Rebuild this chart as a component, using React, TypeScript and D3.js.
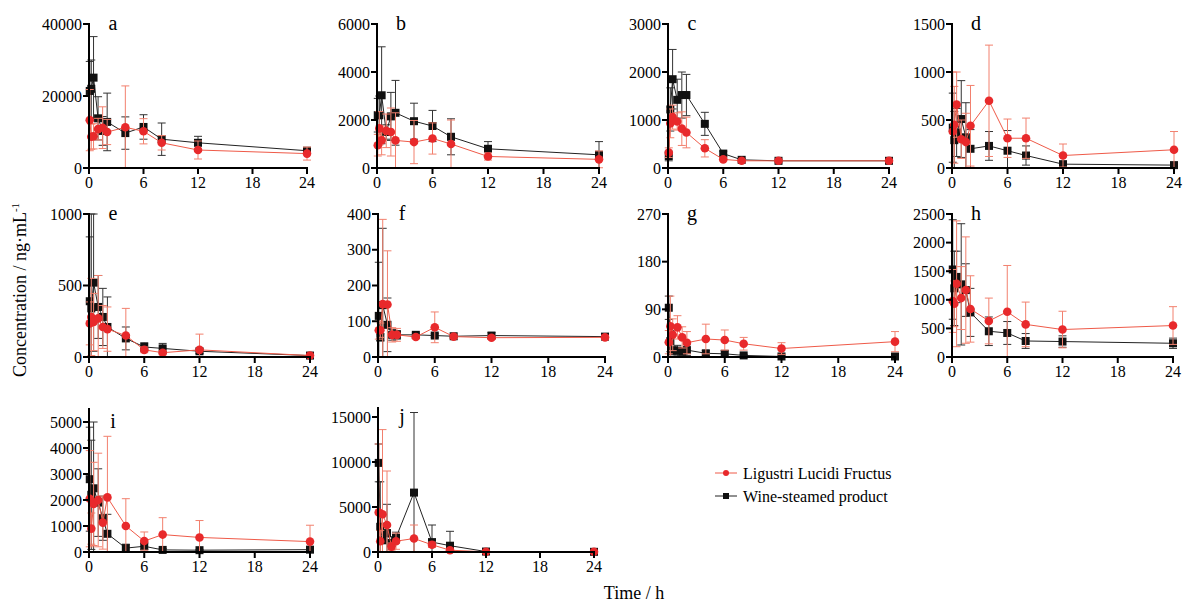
import React from 'react';
import * as d3 from 'd3';

// sampling times (h)
const times = [0.083, 0.25, 0.5, 1, 1.5, 2, 4, 6, 8, 12, 24];
const xTicks = [0, 6, 12, 18, 24];

// a
const aRed = [13300, 8700, 8800, 10800, 11200, 10000, 11300, 10200, 7000, 5000, 4000];
const aRedSd = [8500, 3500, 3500, 3000, 5800, 3500, 11500, 3500, 2000, 2500, 1800];
const aBlack = [21400, 22000, 25100, 13800, 10300, 12800, 9700, 11400, 8000, 7000, 4800];
const aBlackSd = [8200, 8000, 11400, 6000, 4000, 8000, 4500, 3400, 4500, 1800, 500];
// b
const bRed = [950, 1650, 1150, 1550, 1500, 1150, 1080, 1230, 1000, 480, 360];
const bRedSd = [450, 700, 600, 700, 1000, 1150, 900, 650, 1000, 150, 350];
const bBlack = [2200, 2200, 3030, 1500, 2150, 2300, 1950, 1750, 1300, 800, 550];
const bBlackSd = [700, 800, 2020, 300, 1000, 1350, 750, 650, 750, 300, 550];
// c
const cRed = [320, 930, 1060, 970, 820, 740, 410, 180, 150, 150, 150];
const cRedSd = [100, 300, 250, 180, 350, 320, 180, 30, 20, 10, 10];
const cBlack = [250, 1220, 1850, 1420, 1520, 1520, 920, 300, 170, 150, 150];
const cBlackSd = [100, 450, 620, 430, 480, 430, 240, 50, 20, 10, 10];
// d
const dRed = [380, 450, 660, 300, 270, 440, 700, 310, 310, 130, 190];
const dRedSd = [620, 400, 340, 200, 300, 420, 580, 200, 210, 120, 190];
const dBlack = [420, 290, 370, 510, 320, 200, 230, 180, 130, 40, 30];
const dBlackSd = [360, 300, 250, 400, 360, 200, 150, 210, 100, 20, 10];
// e
const eRed = [235, 280, 245, 270, 210, 195, 150, 50, 30, 50, 10];
const eRedSd = [150, 270, 200, 300, 150, 155, 190, 20, 15, 110, 5];
const eBlack = [390, 340, 520, 350, 280, 210, 130, 70, 60, 40, 10];
const eBlackSd = [450, 660, 480, 220, 200, 210, 80, 30, 35, 15, 5];
// f
const fRed = [75, 75, 148, 147, 62, 62, 56, 83, 57, 54, 55];
const fRedSd = [25, 20, 237, 150, 20, 18, 5, 43, 5, 5, 5];
const fBlack = [115, 55, 145, 90, 62, 62, 62, 60, 58, 60, 57];
const fBlackSd = [150, 10, 215, 75, 15, 12, 5, 5, 5, 8, 5];
// g
const gRed = [28, 58, 42, 56, 37, 27, 34, 32, 25, 16, 29];
const gRedSd = [22, 57, 30, 22, 20, 21, 28, 19, 12, 11, 19];
const gBlack = [93, 30, 12, 12, 10, 13, 7, 6, 3, 1, 1];
const gBlackSd = [22, 20, 8, 10, 8, 10, 5, 6, 2, 1, 1];
// h
const hRed = [980, 930, 1280, 1030, 1170, 840, 630, 790, 570, 480, 550];
const hRedSd = [550, 400, 1100, 550, 930, 580, 400, 810, 390, 320, 330];
const hBlack = [1530, 1200, 1400, 1270, 1170, 780, 450, 420, 280, 270, 240];
const hBlackSd = [870, 650, 450, 1060, 460, 420, 250, 200, 130, 100, 90];
// i
const iRed = [2050, 900, 1850, 2000, 1130, 2100, 1000, 420, 670, 560, 400];
const iRedSd = [1850, 600, 1600, 1800, 1020, 2350, 1050, 350, 650, 650, 630];
const iBlack = [2800, 2200, 2450, 1900, 1300, 700, 150, 220, 80, 70, 90];
const iBlackSd = [2000, 2100, 2550, 1300, 850, 750, 150, 120, 50, 30, 30];
// j
const jRed = [4400, 1200, 4200, 3000, 600, 1200, 1500, 800, 200, 20, 20];
const jRedSd = [7600, 1200, 9400, 6000, 400, 900, 1500, 300, 100, 20, 20];
const jBlack = [9900, 2800, 1300, 2100, 1000, 1600, 6600, 1100, 700, 50, 20];
const jBlackSd = [2100, 5000, 1500, 3200, 700, 600, 8900, 1900, 1600, 50, 20];

const seriesNames = ['Ligustri Lucidi Fructus', 'Wine-steamed product'];

const RED = '#e8292b';
const RED_LINE = '#ef5a48';
const RED_ERR = '#f2806e';
const FONT = "'Times New Roman', Tinos, 'Liberation Serif', 'DejaVu Serif', serif";

// panel layout: x0 = pixel of t=0, x1 = pixel of t=24, yb = pixel of 0, yt = pixel of top tick
const panels = [
  { id: 'a', red: aRed, redSd: aRedSd, black: aBlack, blackSd: aBlackSd, ticks: [0, 20000, 40000], max: 40000, top: 40000, x0: 89, x1: 307, yb: 168, yt: 24 },
  { id: 'b', red: bRed, redSd: bRedSd, black: bBlack, blackSd: bBlackSd, ticks: [0, 2000, 4000, 6000], max: 6000, top: 6000, x0: 377, x1: 599, yb: 168, yt: 24 },
  { id: 'c', red: cRed, redSd: cRedSd, black: cBlack, blackSd: cBlackSd, ticks: [0, 1000, 2000, 3000], max: 3000, top: 3000, x0: 668, x1: 889, yb: 168, yt: 24 },
  { id: 'd', red: dRed, redSd: dRedSd, black: dBlack, blackSd: dBlackSd, ticks: [0, 500, 1000, 1500], max: 1500, top: 1500, x0: 952, x1: 1174, yb: 168, yt: 24 },
  { id: 'e', red: eRed, redSd: eRedSd, black: eBlack, blackSd: eBlackSd, ticks: [0, 500, 1000], max: 1000, top: 1000, x0: 89, x1: 310, yb: 357, yt: 214 },
  { id: 'f', red: fRed, redSd: fRedSd, black: fBlack, blackSd: fBlackSd, ticks: [0, 100, 200, 300, 400], max: 400, top: 400, x0: 378, x1: 605, yb: 357, yt: 214 },
  { id: 'g', red: gRed, redSd: gRedSd, black: gBlack, blackSd: gBlackSd, ticks: [0, 90, 180, 270], max: 270, top: 270, x0: 668, x1: 895, yb: 357, yt: 214 },
  { id: 'h', red: hRed, redSd: hRedSd, black: hBlack, blackSd: hBlackSd, ticks: [0, 500, 1000, 1500, 2000, 2500], max: 2500, top: 2500, x0: 952, x1: 1173, yb: 357, yt: 214 },
  { id: 'i', red: iRed, redSd: iRedSd, black: iBlack, blackSd: iBlackSd, ticks: [0, 1000, 2000, 3000, 4000, 5000], max: 5000, top: 5500, x0: 89, x1: 310, yb: 552, yt: 422 },
  { id: 'j', red: jRed, redSd: jRedSd, black: jBlack, blackSd: jBlackSd, ticks: [0, 5000, 10000, 15000], max: 15000, top: 16000, x0: 378, x1: 594, yb: 552, yt: 417 },
];

type P = typeof panels[number];

const Series = ({ vals, sd, x, y, color, line, err, shape }: any) => {
  const path = d3.line<number>().x((_, i) => x(times[i])).y(v => y(v))(vals) || '';
  return (
    <g>
      {vals.map((v: number, i: number) => {
        const cx = x(times[i]);
        const hi = y(v + sd[i]);
        const lo = y(Math.max(0, v - sd[i]));
        return (
          <g key={i} stroke={err} strokeWidth={1}>
            <line x1={cx} x2={cx} y1={hi} y2={lo} />
            <line x1={cx - 4} x2={cx + 4} y1={hi} y2={hi} />
            {v - sd[i] > 0 && <line x1={cx - 4} x2={cx + 4} y1={lo} y2={lo} />}
          </g>
        );
      })}
      <path d={path} fill="none" stroke={line} strokeWidth={1} />
      {vals.map((v: number, i: number) =>
        shape === 'circle'
          ? <circle key={i} cx={x(times[i])} cy={y(v)} r={4.3} fill={color} />
          : <rect key={i} x={x(times[i]) - 4} y={y(v) - 4} width={8} height={8} fill={color} />
      )}
    </g>
  );
};

const Panel = ({ p }: { p: P }) => {
  const x = d3.scaleLinear().domain([0, 24]).range([p.x0, p.x1]);
  const y = d3.scaleLinear().domain([0, p.max]).range([p.yb, p.yt]);
  const yTopPx = y(p.top);
  return (
    <g>
      <Series vals={p.black} sd={p.blackSd} x={x} y={y} color="#111" line="#222" err="#333" shape="square" />
      <Series vals={p.red} sd={p.redSd} x={x} y={y} color={RED} line={RED_LINE} err={RED_ERR} shape="circle" />
      {/* axes */}
      <line x1={p.x0} x2={p.x0} y1={yTopPx - 1} y2={p.yb + 1} stroke="#000" strokeWidth={2} />
      <line x1={p.x0 - 1} x2={p.x1 + 1} y1={p.yb} y2={p.yb} stroke="#000" strokeWidth={2} />
      {p.ticks.map(t => (
        <g key={t}>
          <line x1={p.x0 - 6} x2={p.x0} y1={y(t)} y2={y(t)} stroke="#000" strokeWidth={2} />
          <text x={p.x0 - 7} y={y(t)} dy="0.35em" textAnchor="end" fontFamily={FONT} fontSize={16}>{t}</text>
        </g>
      ))}
      {xTicks.map(t => (
        <g key={t}>
          <line x1={x(t)} x2={x(t)} y1={p.yb} y2={p.yb + 6} stroke="#000" strokeWidth={2} />
          <text x={x(t)} y={p.yb + 20} textAnchor="middle" fontFamily={FONT} fontSize={16}>{t}</text>
        </g>
      ))}
      <text x={p.x0 + 24} y={p.yt + 6} textAnchor="middle" fontFamily={FONT} fontSize={20}>{p.id}</text>
    </g>
  );
};

export default function App() {
  return (
    <svg width={1183} height={604} style={{ position: 'absolute', left: 0, top: 0, background: '#fff' }}>
      {panels.map(p => <Panel key={p.id} p={p} />)}
      <text transform="translate(26,290) rotate(-90)" textAnchor="middle" fontFamily={FONT} fontSize={18}>
        Concentration / ng·mL<tspan dy={-7} fontSize={11}>-1</tspan>
      </text>
      <text x={634} y={599} textAnchor="middle" fontFamily={FONT} fontSize={18}>Time / h</text>
      {seriesNames.map((name, i) => {
        const ly = 473 + i * 23;
        const red = i === 0;
        return (
          <g key={name}>
            <line x1={715} x2={737} y1={ly} y2={ly} stroke={red ? RED_LINE : '#222'} strokeWidth={1} />
            {red
              ? <circle cx={726} cy={ly} r={3} fill={RED} />
              : <rect x={723} y={ly - 3} width={6} height={6} fill="#111" />}
            <text x={743} y={ly} dy="0.35em" fontFamily={FONT} fontSize={16}>{name}</text>
          </g>
        );
      })}
    </svg>
  );
}
